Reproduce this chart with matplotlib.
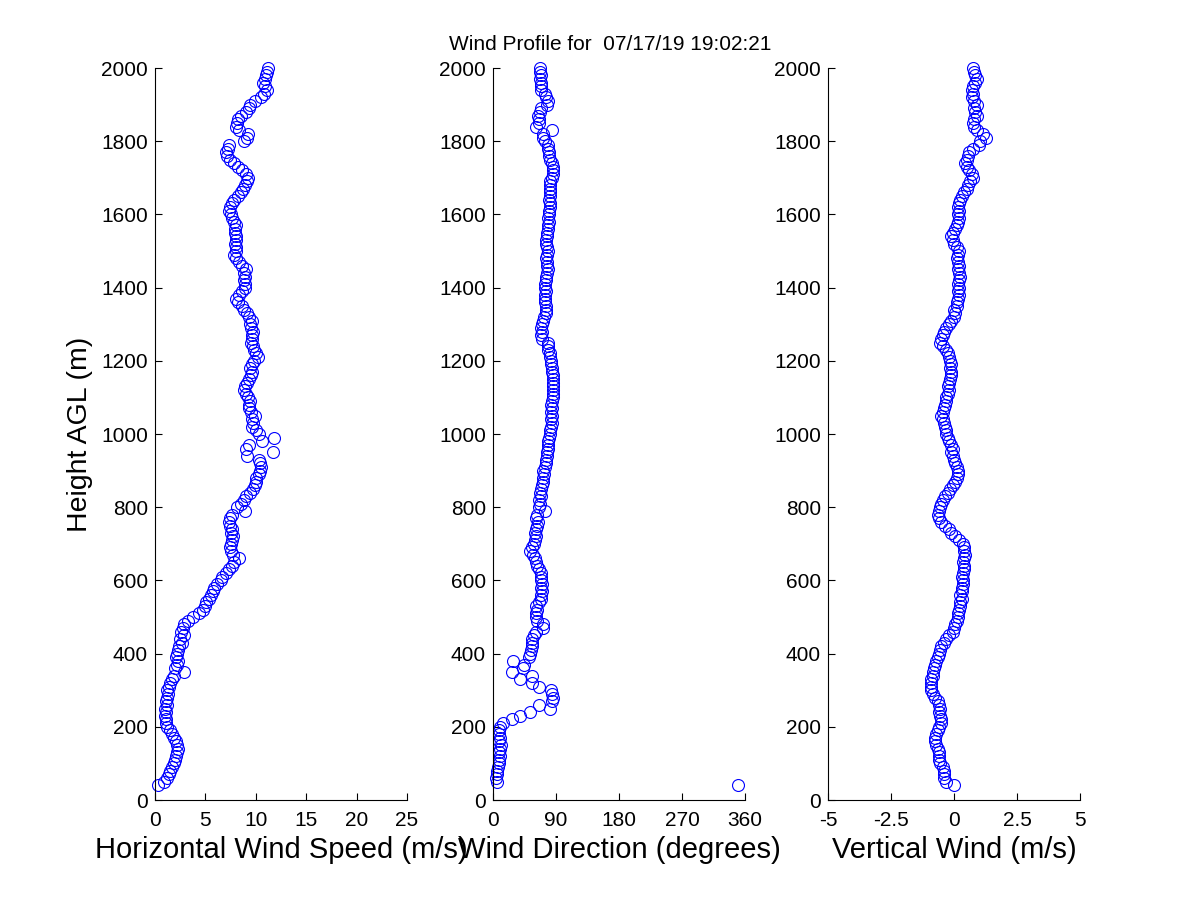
import numpy as np
import matplotlib
matplotlib.use("Agg")
import matplotlib.pyplot as plt

plt.rcParams['font.family'] = ['Liberation Sans', 'DejaVu Sans']

# range gates (m AGL), 40 m to 2000 m every 10 m
height = np.arange(40, 2001, 10)

speed = [
    0.3, 0.9, 1.2, 1.4, 1.5, 1.7,
    1.9, 2.0, 2.1, 2.2, 2.3, 2.2, 2.1, 1.9, 1.7, 1.5,
    1.2, 1.1, 1.1, 1.0, 1.1, 1.0, 1.2, 1.1, 1.2, 1.3,
    1.2, 1.4, 1.5, 1.7, 1.9, 2.9, 2.0, 2.2, 2.3, 2.1,
    2.2, 2.3, 2.4, 2.7, 2.5, 2.9, 2.6, 2.8, 2.9, 3.3,
    3.8, 4.4, 4.8, 5.0, 5.1, 5.4, 5.6, 5.8, 5.9, 6.2,
    6.5, 6.6, 7.0, 7.3, 7.6, 7.8, 8.3, 7.7, 7.5, 7.4,
    7.5, 7.6, 7.7, 7.5, 7.6, 7.4, 7.3, 7.4, 7.6, 8.9,
    8.1, 8.5, 8.8, 9.0, 9.4, 9.7, 9.9, 10.0, 10.0, 10.3,
    10.4, 10.5, 10.4, 10.3, 9.1, 11.7, 9.0, 9.3, 10.6, 11.8,
    10.3, 10.0, 9.6, 9.7, 9.6, 9.9, 9.5, 9.3, 9.3, 9.4,
    9.2, 9.0, 8.8, 8.9, 9.1, 9.3, 9.5, 9.6, 9.4, 9.6,
    9.8, 10.2, 10.0, 9.8, 9.7, 9.5, 9.6, 9.6, 9.7, 9.5,
    9.4, 9.6, 9.3, 9.1, 8.8, 8.6, 8.2, 8.0, 8.3, 8.6,
    8.9, 8.9, 8.8, 8.9, 8.8, 9.0, 8.6, 8.3, 8.0, 7.8,
    8.0, 8.0, 7.9, 8.0, 8.0, 7.9, 7.9, 8.0, 7.8, 7.6,
    7.5, 7.3, 7.4, 7.6, 7.8, 8.2, 8.5, 8.7, 8.9, 9.1,
    9.2, 9.0, 8.6, 8.2, 7.8, 7.4, 7.1, 7.0, 7.2, 7.3,
    8.8, 9.1, 9.2, 8.3, 8.0, 8.1, 8.2, 8.5, 9.0, 9.3,
    9.4, 9.9, 10.5, 10.8, 11.1, 10.9, 10.7, 10.9, 11.0, 11.1,
    11.2,
]

direction = [
    350, 5, 4, 6, 5, 7,
    8, 9, 10, 9, 10, 11, 9, 10, 9, 8,
    10, 14, 27, 38, 53, 81, 65, 84, 86, 84,
    83, 65, 55, 38, 55, 27, 43, 44, 29, 52,
    53, 54, 55, 56, 55, 58, 62, 72, 71, 63,
    62, 61, 63, 62, 66, 68, 69, 70, 69, 70,
    69, 68, 68, 66, 63, 62, 60, 57, 53, 55,
    58, 60, 61, 60, 62, 63, 64, 62, 63, 74,
    66, 67, 66, 68, 67, 68, 70, 71, 72, 73,
    72, 74, 76, 76, 77, 77, 78, 78, 79, 80,
    81, 81, 83, 84, 83, 84, 83, 84, 83, 84,
    85, 86, 86, 85, 86, 86, 85, 84, 84, 83,
    83, 82, 81, 79, 78, 79, 70, 69, 70, 69,
    70, 71, 73, 75, 76, 75, 74, 74, 74, 75,
    74, 74, 75, 76, 77, 78, 77, 77, 76, 77,
    78, 77, 76, 76, 77, 77, 78, 79, 80, 79,
    80, 80, 81, 81, 80, 81, 82, 81, 81, 82,
    84, 85, 86, 85, 84, 81, 80, 80, 79, 78,
    74, 72, 71, 84, 62, 66, 65, 64, 67, 68,
    77, 78, 75, 74, 69, 68, 69, 67, 68, 67,
    67,
]

vertical = [
    0.0, -0.3, -0.4, -0.4, -0.4, -0.45,
    -0.55, -0.6, -0.6, -0.6, -0.65, -0.7, -0.75, -0.75, -0.7, -0.65,
    -0.6, -0.5, -0.5, -0.55, -0.6, -0.55, -0.6, -0.65, -0.75, -0.85,
    -0.9, -0.9, -0.9, -0.9, -0.85, -0.85, -0.8, -0.75, -0.7, -0.65,
    -0.6, -0.55, -0.5, -0.4, -0.3, -0.2, -0.05, 0.0, 0.05, 0.1,
    0.15, 0.15, 0.2, 0.25, 0.25, 0.3, 0.25, 0.3, 0.3, 0.35,
    0.35, 0.3, 0.35, 0.4, 0.4, 0.35, 0.4, 0.45, 0.4, 0.4,
    0.35, 0.2, 0.05, -0.1, -0.2, -0.35, -0.5, -0.6, -0.65, -0.6,
    -0.55, -0.5, -0.45, -0.35, -0.25, -0.15, -0.05, 0.05, 0.1, 0.15,
    0.15, 0.1, 0.05, 0.0, -0.05, -0.1, -0.05, -0.1, -0.2, -0.25,
    -0.3, -0.3, -0.35, -0.4, -0.45, -0.5, -0.45, -0.4, -0.35, -0.3,
    -0.3, -0.25, -0.2, -0.25, -0.2, -0.15, -0.1, -0.1, -0.15, -0.1,
    -0.15, -0.2, -0.25, -0.3, -0.45, -0.55, -0.5, -0.45, -0.4, -0.3,
    -0.2, -0.1, 0.0, 0.05, 0.0, 0.1, 0.1, 0.15, 0.2, 0.15,
    0.2, 0.15, 0.2, 0.25, 0.2, 0.15, 0.2, 0.15, 0.1, 0.15,
    0.2, 0.1, 0.0, -0.05, -0.1, -0.05, 0.05, 0.1, 0.15, 0.2,
    0.15, 0.2, 0.15, 0.2, 0.25, 0.3, 0.4, 0.5, 0.55, 0.65,
    0.75, 0.7, 0.6, 0.5, 0.45, 0.5, 0.55, 0.6, 0.75, 1.0,
    1.05, 1.25, 1.15, 0.9, 0.8, 0.75, 0.8, 0.9, 0.85, 0.8,
    0.9, 0.8, 0.7, 0.75, 0.7, 0.75, 0.85, 0.9, 0.85, 0.8,
    0.75,
]

panels = [
    (speed, 'Horizontal Wind Speed (m/s)', (0, 25), [0, 5, 10, 15, 20, 25],
     ['0', '5', '10', '15', '20', '25']),
    (direction, 'Wind Direction (degrees)', (0, 360), [0, 90, 180, 270, 360],
     ['0', '90', '180', '270', '360']),
    (vertical, 'Vertical Wind (m/s)', (-5, 5), [-5, -2.5, 0, 2.5, 5],
     ['-5', '-2.5', '0', '2.5', '5']),
]
y_ticks = list(range(0, 2001, 200))

fig = plt.figure(figsize=(12, 9), dpi=100)
lefts = [155 / 1200, 493 / 1200, 828 / 1200]

for i, (vals, label, xlim, xt, xtl) in enumerate(panels):
    ax = fig.add_axes([lefts[i], 100 / 900, 252 / 1200, 732 / 900])
    ax.plot(vals, height, 'o', mfc='none', mec='blue', ms=8.6, mew=0.8,
            clip_on=False)
    ax.set_xlim(*xlim)
    ax.set_ylim(0, 2000)
    ax.set_xticks(xt)
    ax.set_xticklabels(xtl)
    ax.set_yticks(y_ticks)
    ax.spines['top'].set_visible(False)
    ax.spines['right'].set_visible(False)
    ax.tick_params(direction='in', length=5, width=0.8, labelsize=15)
    ax.tick_params(axis='x', pad=8)
    ax.tick_params(axis='y', pad=5)
    ax.set_xlabel(label, fontsize=21, labelpad=4)
    if i == 0:
        ax.set_ylabel('Height AGL (m)', fontsize=20.5, labelpad=6)

fig.text(610 / 1200, 1 - 44 / 900, 'Wind Profile for  07/17/19 19:02:21',
         ha='center', va='center', fontsize=15)

fig.savefig('out.png', dpi=100, facecolor='white')
